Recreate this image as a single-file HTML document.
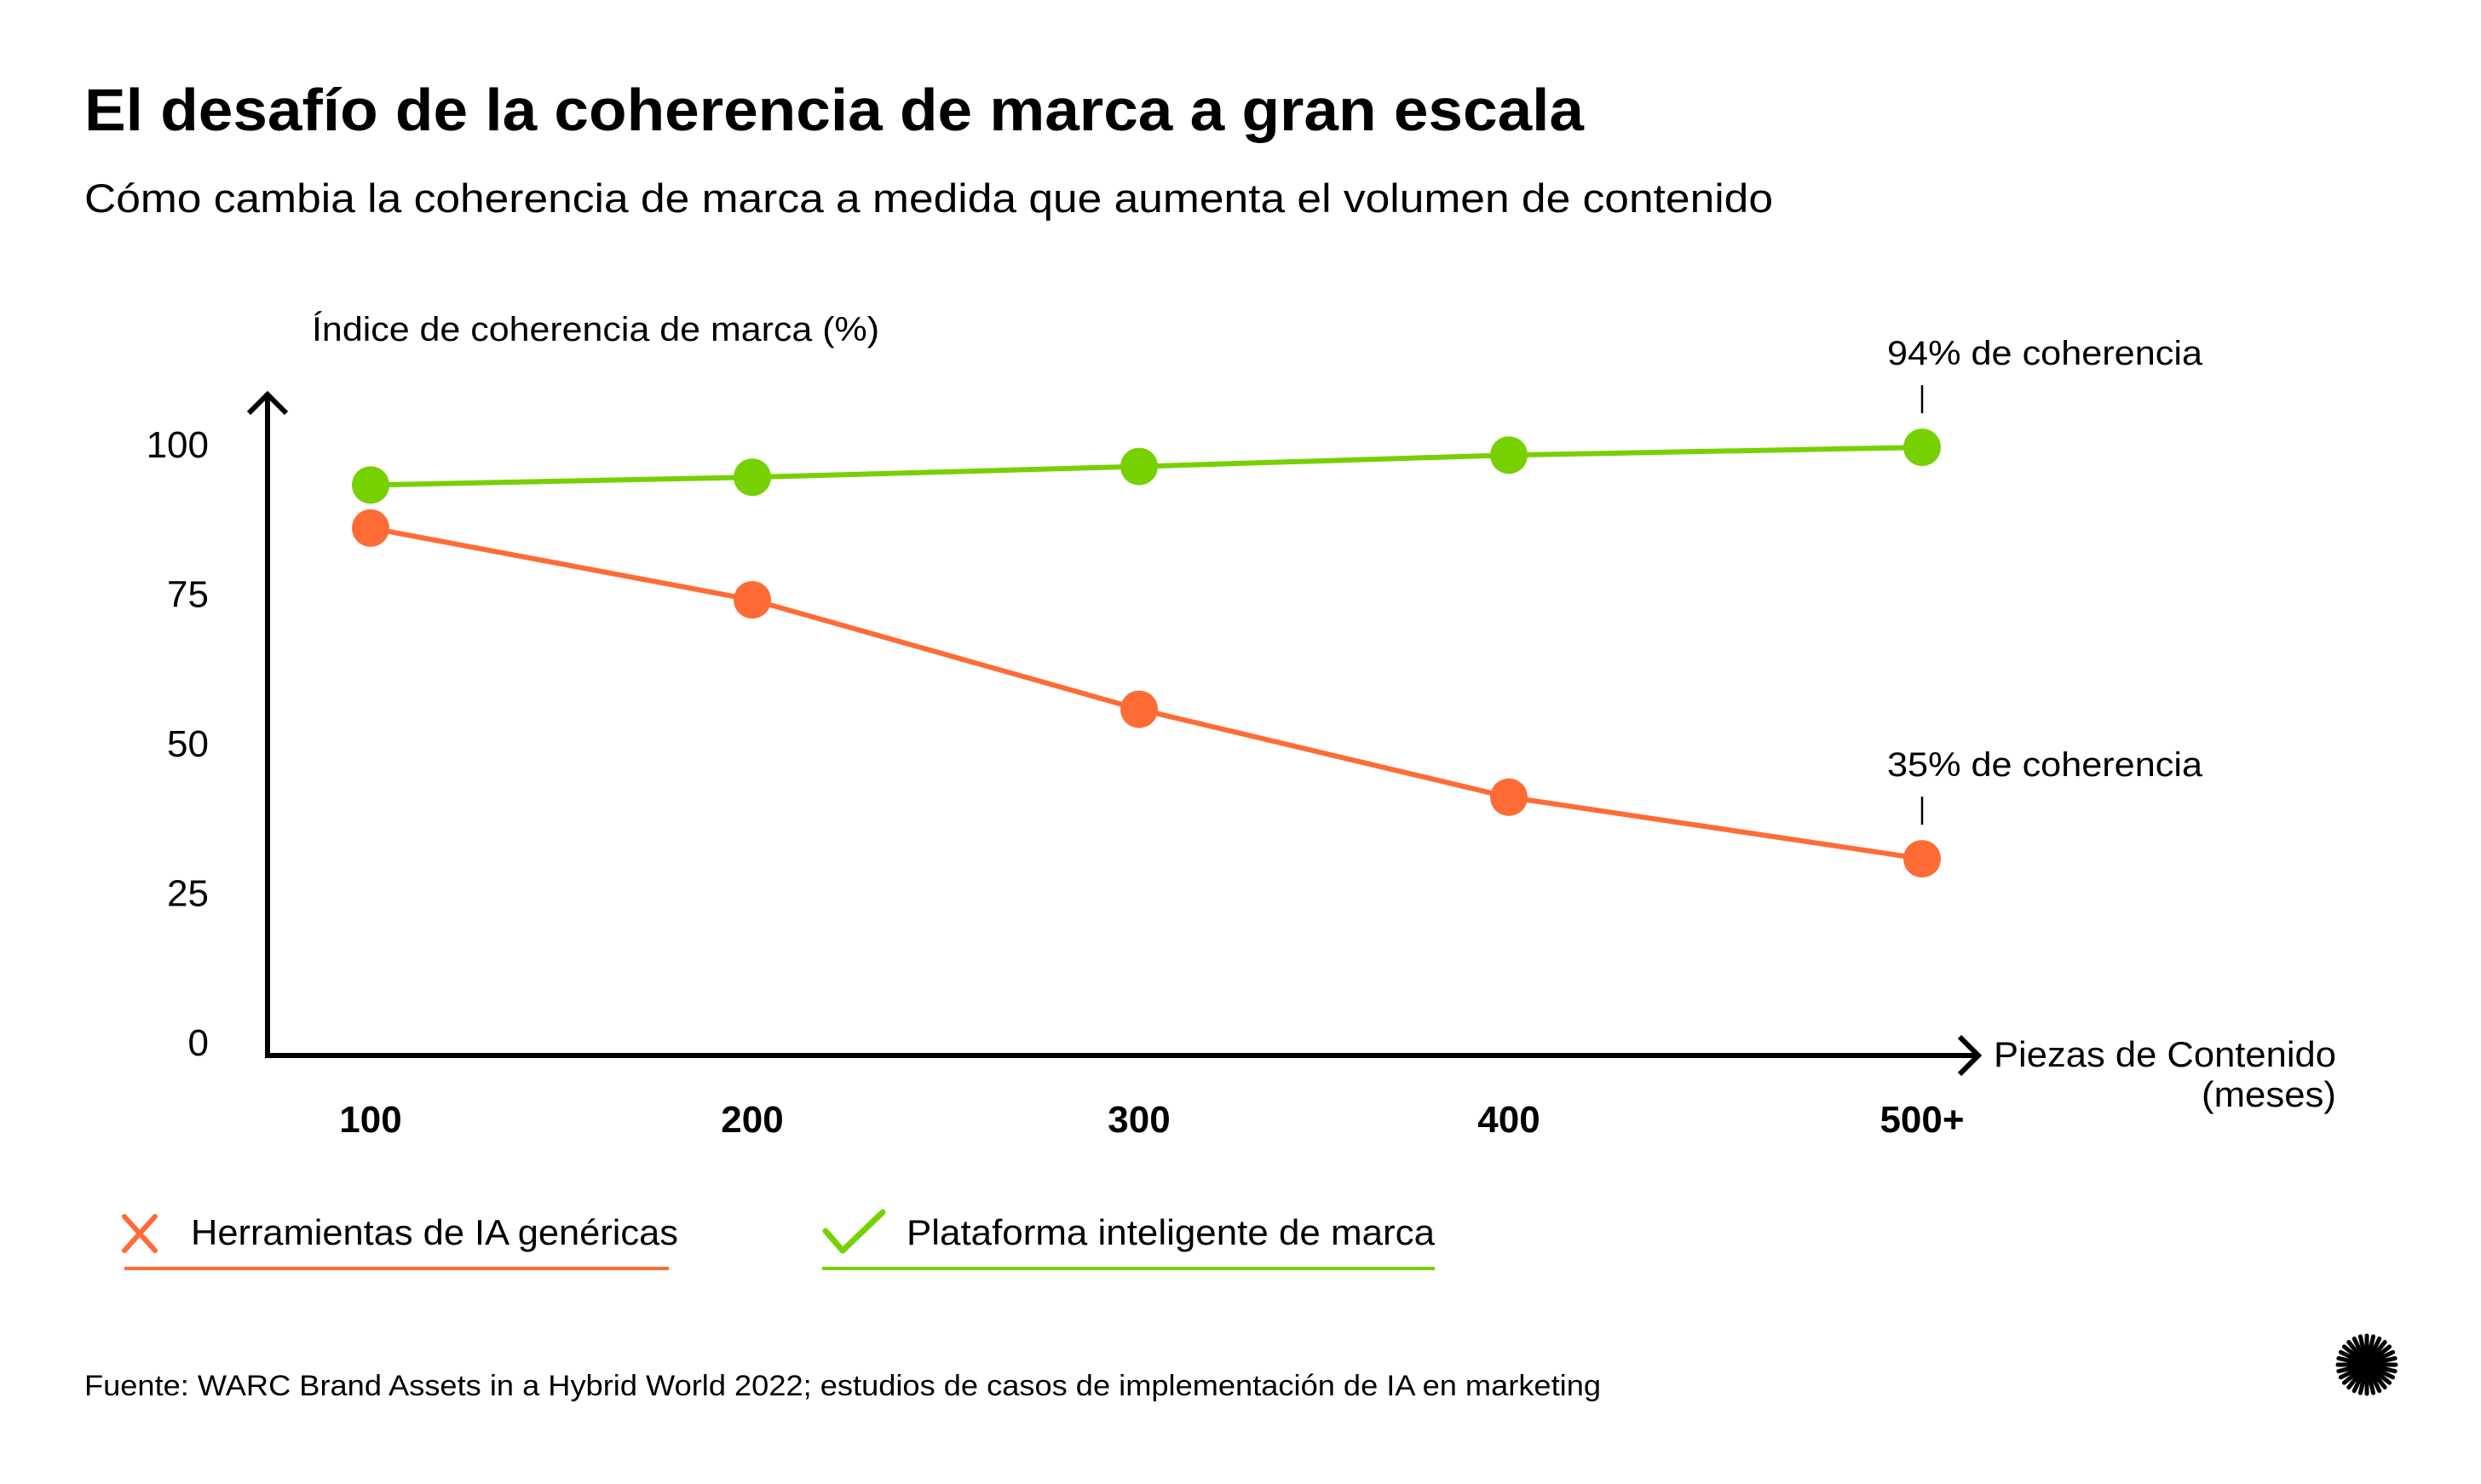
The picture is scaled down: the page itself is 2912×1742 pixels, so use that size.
<!DOCTYPE html>
<html><head><meta charset="utf-8">
<style>
html,body{margin:0;padding:0;background:#fff;}
body{width:2912px;height:1737px;overflow:hidden;font-family:"Liberation Sans",sans-serif;}
</style></head>
<body>
<svg width="2912" height="1737" viewBox="0 0 2912 1737" xmlns="http://www.w3.org/2000/svg">
<rect width="2912" height="1737" fill="#fff"/>
<text x="99" y="153" font-size="70" font-weight="bold" fill="#000" textLength="1760" lengthAdjust="spacingAndGlyphs">El desafío de la coherencia de marca a gran escala</text>
<text x="99" y="249" font-size="47" fill="#000" textLength="1982" lengthAdjust="spacingAndGlyphs">Cómo cambia la coherencia de marca a medida que aumenta el volumen de contenido</text>
<text x="366" y="400" font-size="40" fill="#000" textLength="666" lengthAdjust="spacingAndGlyphs">Índice de coherencia de marca (%)</text>
<g id="axes"></g>
<g id="series"></g>
<text x="2742" y="1252" font-size="42" text-anchor="end" fill="#000" textLength="402" lengthAdjust="spacingAndGlyphs">Piezas de Contenido</text>
<text x="2742" y="1299" font-size="42" text-anchor="end" fill="#000" textLength="158" lengthAdjust="spacingAndGlyphs">(meses)</text>
<g>
<g>
<path d="M146 1428 L182 1468 M182 1428 L146 1468" stroke="#FF6B35" stroke-width="6" stroke-linecap="round" fill="none"/>
<text x="224" y="1461" font-size="42" fill="#000" textLength="572" lengthAdjust="spacingAndGlyphs">Herramientas de IA genéricas</text>
<line x1="146" y1="1489" x2="785" y2="1489" stroke="#FF6B35" stroke-width="4"/>
</g>
<g>
<path d="M969 1445 L989 1468 L1036 1423" stroke="#77D100" stroke-width="7" stroke-linecap="round" stroke-linejoin="round" fill="none"/>
<text x="1064" y="1461" font-size="42" fill="#000" textLength="620" lengthAdjust="spacingAndGlyphs">Plataforma inteligente de marca</text>
<line x1="965" y1="1489" x2="1684" y2="1489" stroke="#77D100" stroke-width="4"/>
</g>
</g>
<text x="99" y="1638" font-size="34" fill="#000" textLength="1780" lengthAdjust="spacingAndGlyphs">Fuente: WARC Brand Assets in a Hybrid World 2022; estudios de casos de implementación de IA en marketing</text>
<g id="logo"></g>
</svg>
<script>
const categories = ["100","200","300","400","500+"];
const genericValues = [86.2, 74.2, 55.9, 41.2, 30.9];
const platformValues = [93.4, 94.7, 96.5, 98.4, 99.7];
const yTicks = [0, 25, 50, 75, 100];
const annotations = ["94% de coherencia", "35% de coherencia"];

const NS = "http://www.w3.org/2000/svg";
const xPos = [435, 883, 1337, 1771, 2256];
function xScale(i){ return xPos[i]; }
function yScale(v){ return 1225 - v * 7.02; }
function mk(tag, attrs, parent){ const e=document.createElementNS(NS,tag); for(const k in attrs) e.setAttribute(k,attrs[k]); parent.appendChild(e); return e; }

const axes = document.getElementById('axes');
let ya = mk('path',{d:"M314 1239 L314 463 M292 485 L314 463 L336 485",stroke:"#000","stroke-width":6,fill:"none"},axes);


let xa = mk('path',{d:"M311 1239 L2322 1239 M2300 1217 L2322 1239 L2300 1261",stroke:"#000","stroke-width":6,fill:"none"},axes);


yTicks.forEach(v=>{
  const t = mk('text',{x:245,y:yScale(v)+14,"font-size":44,"text-anchor":"end",fill:"#000"},axes);
  t.textContent = v;
  
  
});
categories.forEach((c,i)=>{
  const t = mk('text',{x:xScale(i),y:1329,"font-size":44,"font-weight":"bold","text-anchor":"middle",fill:"#000"},axes);
  t.textContent = c;
  
  
});

const series = document.getElementById('series');
function drawSeries(vals, color, name){
  const pts = vals.map((v,i)=>xScale(i)+","+yScale(v)).join(" ");
  const l = mk('polyline',{points:pts,fill:"none",stroke:color,"stroke-width":6},series);
  
  
  vals.forEach((v,i)=>{
    const c = mk('circle',{cx:xScale(i),cy:yScale(v),r:22,fill:color},series);
    
    
  });
}
drawSeries(platformValues, "#77D100", "platform");
drawSeries(genericValues, "#FF6B35", "generic");

function annotate(text, i, v, name){
  const x = xScale(i), y = yScale(v);
  const ln = mk('line',{x1:x,y1:y-40,x2:x,y2:y-73,stroke:"#000","stroke-width":2.5},series);
  
  
  const t = mk('text',{x:x-41,y:y-97,"font-size":40,fill:"#000",textLength:370,lengthAdjust:"spacingAndGlyphs"},series);
  t.textContent = text;
  
  
}
annotate(annotations[0], 4, platformValues[4], 'platform-annotation');
annotate(annotations[1], 4, genericValues[4], 'generic-annotation');

const logo = document.getElementById('logo');
for(let k=0;k<14;k++){
  const a = k*Math.PI/14;
  const r = mk('line',{x1:2778-34*Math.cos(a),y1:1602-34*Math.sin(a),x2:2778+34*Math.cos(a),y2:1602+34*Math.sin(a),stroke:"#000","stroke-width":5,"stroke-linecap":"round"},logo);
  
  
}
const lc = mk('circle',{cx:2778,cy:1602,r:14,fill:"#000"},logo);


</script>
</body></html>
